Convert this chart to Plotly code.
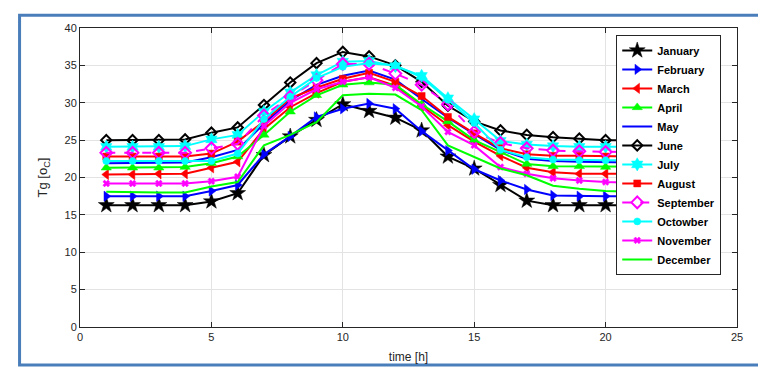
import plotly.graph_objects as go

hours = list(range(1, 25))
months = ["January", "February", "March", "April", "May", "June",
          "July", "August", "September", "Octowber", "November", "December"]

january = [16.3, 16.3, 16.3, 16.3, 16.8, 17.9, 23.0, 25.5, 27.7, 29.8, 28.9, 28.0,
           26.3, 22.8, 21.2, 19.0, 16.9, 16.3, 16.3, 16.3, 16.3, 16.3, 16.3, 16.3]
february = [17.5, 17.5, 17.5, 17.5, 18.2, 19.0, 23.1, 25.5, 28.1, 29.2, 29.9, 29.2,
            26.2, 23.6, 21.1, 19.6, 18.4, 17.6, 17.5, 17.5, 17.5, 17.5, 17.5, 17.5]
march = [20.4, 20.4, 20.5, 20.5, 21.3, 22.1, 26.5, 29.4, 31.3, 32.8, 33.4, 32.3,
         29.6, 27.0, 24.8, 22.9, 21.3, 20.7, 20.5, 20.5, 20.5, 20.5, 20.5, 20.5]
april = [21.3, 21.3, 21.3, 21.4, 21.9, 22.8, 25.7, 28.8, 31.0, 32.4, 32.7, 32.4,
         29.8, 27.5, 25.0, 23.4, 21.8, 21.5, 21.5, 21.4, 21.4, 21.4, 21.4, 21.4]
may = [21.9, 21.9, 21.9, 22.0, 22.7, 23.7, 27.2, 30.3, 32.4, 33.6, 34.3, 33.1,
       30.5, 28.0, 25.8, 23.7, 22.5, 22.2, 22.1, 22.0, 22.0, 22.0, 22.0, 22.0]
june = [25.0, 25.0, 25.0, 25.1, 26.0, 26.7, 29.7, 32.7, 35.3, 36.8, 36.2, 35.0,
        32.8, 29.6, 27.5, 26.3, 25.7, 25.4, 25.2, 25.0, 25.0, 25.0, 25.0, 25.0]
july = [24.1, 24.1, 24.1, 24.2, 25.1, 25.7, 28.8, 31.4, 33.7, 35.5, 35.6, 34.9,
        33.6, 30.6, 27.8, 24.9, 24.4, 24.2, 24.1, 24.1, 24.1, 24.1, 24.1, 24.1]
august = [22.8, 22.8, 22.8, 22.8, 23.2, 24.8, 27.5, 30.6, 32.0, 33.2, 34.0, 32.8,
          30.9, 28.1, 25.9, 23.9, 23.1, 22.9, 22.9, 22.8, 22.8, 22.8, 22.8, 22.8]
september = [23.3, 23.3, 23.3, 23.3, 23.9, 24.5, 28.3, 30.8, 33.0, 35.2, 35.2, 33.9,
             32.4, 29.8, 26.1, 24.6, 23.9, 23.6, 23.5, 23.4, 23.4, 23.4, 23.4, 23.4]
october = [22.2, 22.2, 22.2, 22.2, 22.2, 23.2, 27.8, 30.8, 33.3, 34.8, 35.3, 35.0,
           33.4, 30.4, 27.3, 23.7, 22.7, 22.4, 22.3, 22.3, 22.3, 22.3, 22.3, 22.3]
november = [19.2, 19.2, 19.2, 19.2, 19.5, 20.1, 26.9, 30.0, 31.8, 32.8, 33.4, 32.0,
            29.5, 26.1, 24.3, 21.4, 20.5, 19.9, 19.6, 19.4, 19.3, 19.3, 19.3, 19.3]
december = [18.1, 18.0, 18.0, 18.0, 18.8, 19.4, 24.3, 25.7, 27.4, 31.0, 31.2, 31.1,
            29.0, 24.3, 22.8, 21.2, 20.3, 18.9, 18.5, 18.2, 18.1, 18.1, 18.1, 18.1]

series = [january, february, march, april, may, june,
          july, august, september, october, november, december]

x_ticks = [0, 5, 10, 15, 20, 25]
y_ticks = [0, 5, 10, 15, 20, 25, 30, 35, 40]

styles = [
    dict(color="#000000", symbol="star", size=12, dash="solid"),
    dict(color="#0000ff", symbol="triangle-right", size=9, dash="solid"),
    dict(color="#ff0000", symbol="triangle-left", size=9, dash="solid"),
    dict(color="#00ff00", symbol="triangle-up", size=9, dash="solid"),
    dict(color="#0000ff", symbol=None, size=0, dash="solid"),
    dict(color="#000000", symbol="diamond-open", size=8, dash="solid"),
    dict(color="#00ffff", symbol="hexagram", size=10, dash="solid"),
    dict(color="#ff0000", symbol="square", size=7, dash="solid"),
    dict(color="#ff00ff", symbol="diamond-open", size=9, dash="dash"),
    dict(color="#00ffff", symbol="circle", size=7, dash="solid"),
    dict(color="#ff00ff", symbol="x", size=6, dash="solid"),
    dict(color="#00ff00", symbol=None, size=0, dash="solid"),
]

fig = go.Figure()
for name, vals, st in zip(months, series, styles):
    if st["symbol"] is None:
        fig.add_trace(go.Scatter(
            x=hours, y=vals, name=name, mode="lines",
            line=dict(color=st["color"], width=2, dash=st["dash"])))
    else:
        fig.add_trace(go.Scatter(
            x=hours, y=vals, name=name, mode="lines+markers",
            line=dict(color=st["color"], width=2, dash=st["dash"]),
            marker=dict(symbol=st["symbol"], size=st["size"], color=st["color"],
                        line=dict(color=st["color"], width=2 if "open" in st["symbol"] else 0.5))))

axis_common = dict(
    showgrid=True, gridcolor="#e3e3e3", gridwidth=1,
    showline=True, linecolor="#262626", linewidth=1, mirror="ticks",
    ticks="inside", ticklen=5, tickcolor="#262626", automargin=False,
    zeroline=False, tickfont=dict(family="Liberation Sans, Arial", size=11, color="#262626"),
)

fig.update_xaxes(range=[0, 25], tickvals=x_ticks, **axis_common,
                 title=dict(text="time [h]", standoff=10,
                            font=dict(family="Liberation Sans, Arial", size=12, color="#262626")))
fig.update_yaxes(range=[0, 40], tickvals=y_ticks, **axis_common,
                 title=dict(text="Tg [o<sub>C</sub>]", standoff=13,
                            font=dict(family="Liberation Sans, Arial", size=13, color="#262626")))

fig.add_shape(type="rect", xref="paper", yref="paper",
              x0=-0.092, x1=1.038, y0=-0.127, y1=1.043,
              line=dict(color="#4a7ebb", width=3), fillcolor="rgba(0,0,0,0)", layer="above")

# page body has an 8px default margin, so the figure is 8px smaller and shifted
fig.update_layout(
    width=758, height=375,
    margin=dict(l=72, r=29, t=20, b=56),
    paper_bgcolor="white", plot_bgcolor="white",
    showlegend=True,
    legend=dict(x=0.976, y=0.977, xanchor="right", yanchor="top",
                bgcolor="white", bordercolor="#262626", borderwidth=1,
                font=dict(family="Liberation Sans, Arial", size=11, color="#000000", weight="bold"),
                itemwidth=30, tracegroupgap=0),
)

fig.write_html("out.html")
